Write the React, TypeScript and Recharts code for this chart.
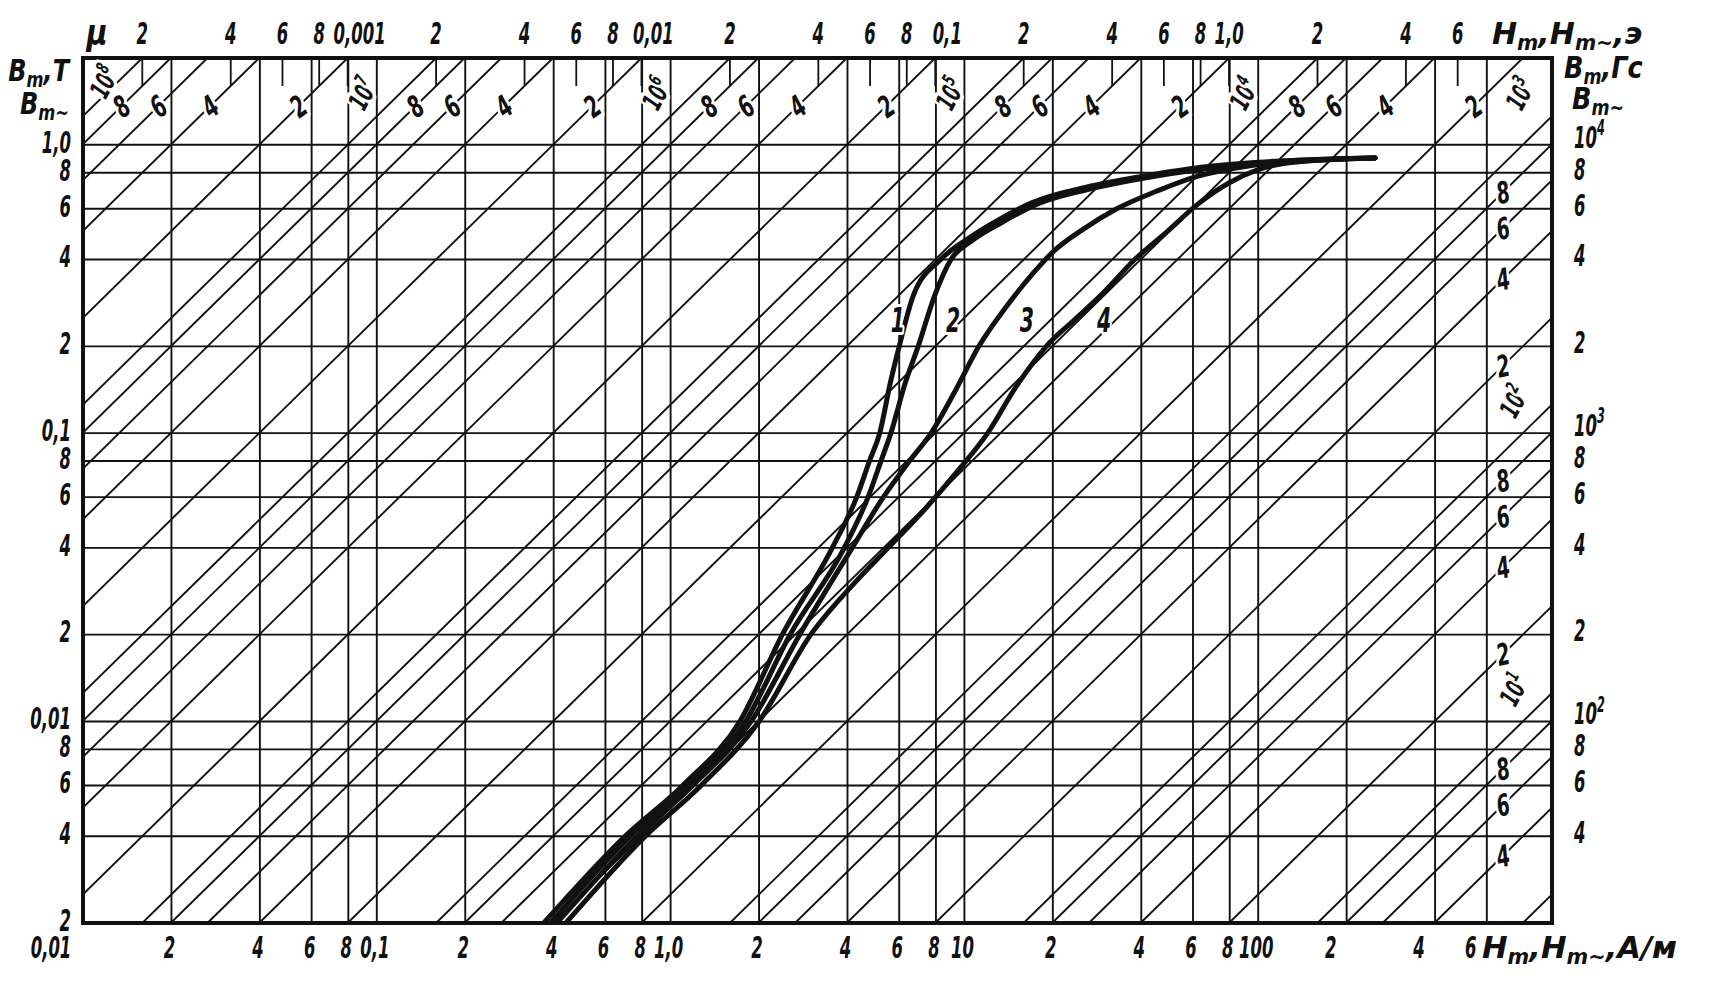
import React from 'react';
import {
  ComposedChart,
  Line,
  XAxis,
  YAxis,
  CartesianGrid,
  ReferenceLine,
  ReferenceDot,
  ReferenceArea,
} from 'recharts';

// ranges: field in A/m, induction in T
const H_MIN = 0.01;
const H_MAX = 1000;
const B_MIN = 0.002;
const B_MAX = 2;
const MU0 = 4e-7 * Math.PI;
const OE = 1000 / (4 * Math.PI); // 1 Oe in A/m

// bottom axis, A/m
const hTicks = [0.01, 0.02, 0.04, 0.06, 0.08, 0.1, 0.2, 0.4, 0.6, 0.8, 1, 2, 4, 6, 8, 10, 20, 40, 60, 80, 100, 200, 400, 600, 1000];
const hLabels = ['0,01', '2', '4', '6', '8', '0,1', '2', '4', '6', '8', '1,0', '2', '4', '6', '8', '10', '2', '4', '6', '8', '100', '2', '4', '6', ''];

// top axis, Oe
const oeTicks = [2e-4, 4e-4, 6e-4, 8e-4, 1e-3, 2e-3, 4e-3, 6e-3, 8e-3, 0.01, 0.02, 0.04, 0.06, 0.08, 0.1, 0.2, 0.4, 0.6, 0.8, 1, 2, 4, 6];
const oeLabels = ['2', '4', '6', '8', '0,001', '2', '4', '6', '8', '0,01', '2', '4', '6', '8', '0,1', '2', '4', '6', '8', '1,0', '2', '4', '6'];

// left axis T, right axis Gs
const bTicks = [0.002, 0.004, 0.006, 0.008, 0.01, 0.02, 0.04, 0.06, 0.08, 0.1, 0.2, 0.4, 0.6, 0.8, 1, 2];
const tLabels = ['2', '4', '6', '8', '0,01', '2', '4', '6', '8', '0,1', '2', '4', '6', '8', '1,0', ''];
const gsLabels = ['', '4', '6', '8', '10^{2}', '2', '4', '6', '8', '10^{3}', '2', '4', '6', '8', '10^{4}', ''];

// permeability lines mu = m * 10^k
const muMantissas = [1, 2, 4, 6, 8];
const muExponents = [0, 1, 2, 3, 4, 5, 6, 7, 8];

// magnetisation curves, [H (A/m), B (T)]
const curve1 = [[0.37, 0.002], [0.7, 0.004], [1.1, 0.006], [1.72, 0.01], [2.4, 0.02], [3.55, 0.04], [4.3, 0.06], [4.75, 0.08], [5.15, 0.1], [5.6, 0.15], [6.0, 0.2], [6.7, 0.3], [8.3, 0.4], [10.3, 0.473], [13.1, 0.55], [17, 0.63], [27, 0.72], [41, 0.78], [64, 0.836], [100, 0.87], [160, 0.89], [250, 0.9]];
const curve2 = [[0.39, 0.002], [0.73, 0.004], [1.14, 0.006], [1.8, 0.01], [2.55, 0.02], [3.9, 0.04], [4.7, 0.06], [5.2, 0.08], [5.62, 0.1], [6.3, 0.15], [6.96, 0.2], [7.92, 0.3], [9.0, 0.4], [10.6, 0.465], [13.5, 0.54], [17.5, 0.62], [28, 0.71], [45, 0.78], [70, 0.83], [110, 0.865], [250, 0.9]];
const curve3 = [[0.41, 0.002], [0.77, 0.004], [1.19, 0.006], [1.88, 0.01], [2.75, 0.02], [4.15, 0.04], [5.3, 0.06], [6.5, 0.08], [7.7, 0.1], [9.3, 0.14], [11.2, 0.2], [13.9, 0.275], [17.2, 0.36], [20, 0.425], [25.4, 0.51], [33, 0.6], [45, 0.69], [60, 0.77], [87, 0.836], [130, 0.88], [250, 0.9]];
const curve4 = [[0.44, 0.002], [0.82, 0.004], [1.27, 0.006], [2.0, 0.01], [3.0, 0.02], [4.2, 0.03], [5.5, 0.04], [7.4, 0.055], [9.6, 0.075], [12, 0.1], [15, 0.145], [19, 0.2], [24, 0.25], [30, 0.31], [38, 0.4], [49, 0.5], [62, 0.62], [80, 0.74], [100, 0.82], [150, 0.88], [250, 0.9]];

const curveNames = ['1', '2', '3', '4'];
const curveLabelH = [5.94, 9.15, 16.3, 29.9];
const curveLabelB = [0.247, 0.247, 0.247, 0.247];

const W = 1698;
const HGT = 970;
const INK = '#111';
const FONT = "'DejaVu Sans', 'Liberation Sans', sans-serif";

type Part = { t: string; k?: 'sup' | 'sub' };

// "10^{2}" / "B_{m},T" -> text parts
const parse = (s: string): Part[] => {
  const out: Part[] = [];
  const re = /([_^])\{([^}]*)\}/g;
  let last = 0;
  let m: RegExpExecArray | null;
  while ((m = re.exec(s))) {
    if (m.index > last) out.push({ t: s.slice(last, m.index) });
    out.push({ t: m[2], k: m[1] === '^' ? 'sup' : 'sub' });
    last = re.lastIndex;
  }
  if (last < s.length) out.push({ t: s.slice(last) });
  return out;
};

const Word = ({ x, y, text, anchor = 'middle', size = 30, rot = 0, sx = 0.55, halo = 0 }: any) => {
  const parts = parse(text);
  let shift = 0;
  return (
    <text
      transform={`translate(${x},${y}) rotate(${rot}) scale(${sx},1)`}
      y={size * 0.36}
      textAnchor={anchor}
      fontFamily={FONT}
      fontStyle="italic"
      fontWeight="bold"
      fontSize={size}
      fill={INK}
      stroke={halo ? '#fff' : 'none'}
      strokeWidth={halo}
      strokeLinejoin="round"
      paintOrder="stroke"
    >
      {parts.map((p, i) => {
        const target = p.k === 'sup' ? -size * 0.42 : p.k === 'sub' ? size * 0.22 : 0;
        const dy = target - shift;
        shift = target;
        return (
          <tspan key={i} dy={dy} fontSize={p.k ? size * 0.68 : size}>
            {p.t}
          </tspan>
        );
      })}
    </text>
  );
};

const findIdx = (arr: number[], v: number) => arr.findIndex((a) => Math.abs(a - v) <= a * 1e-6);

const BottomTick = (p: any) => {
  const v = p.payload.value;
  if (v >= H_MAX * 0.999) {
    return <Word x={p.x - 70} y={p.y + 24} text="H_{m},H_{m~},A/м" anchor="start" sx={1.02} />;
  }
  const i = findIdx(hTicks, v);
  const dx = i === 0 ? -32 : v >= 200 ? -16 : -2;
  return <Word x={p.x + dx} y={p.y + 24} text={hLabels[i]} />;
};

const LeftTick = (p: any) => {
  const v = p.payload.value;
  if (v >= B_MAX * 0.999) {
    return (
      <g>
        <Word x={p.x - 14} y={p.y + 12} text="B_{m},Т" anchor="end" sx={0.8} />
        <Word x={p.x - 14} y={p.y + 45} text="B_{m~}" anchor="end" sx={0.8} />
      </g>
    );
  }
  return <Word x={p.x - 12} y={p.y - 3} text={tLabels[findIdx(bTicks, v)]} anchor="end" />;
};

const RightTick = (p: any) => {
  const v = p.payload.value;
  if (v >= B_MAX * 0.999) {
    return (
      <g>
        <Word x={p.x + 12} y={p.y + 9} text="B_{m},Гс" anchor="start" sx={0.85} />
        <Word x={p.x + 20} y={p.y + 40} text="B_{m~}" anchor="start" sx={0.85} />
      </g>
    );
  }
  const i = findIdx(bTicks, v);
  const dy = gsLabels[i].startsWith('10') ? -8 : -4;
  return <Word x={p.x + 22} y={p.y + dy} text={gsLabels[i]} anchor="start" />;
};

// top Oe scale: short tick inside the frame plus label above it
const TopMark = ({ cx, cy, text }: any) => (
  <g>
    <line x1={cx} y1={cy} x2={cx} y2={cy + 28} stroke={INK} strokeWidth={1.8} />
    <Word x={cx + (text.startsWith('0,') ? 12 : 0)} y={cy - 25} text={text} />
  </g>
);

// permeability grid, clipped to the frame
const muLines = muExponents
  .flatMap((e) => muMantissas.map((m) => ({ m, e, mu: m * Math.pow(10, e) })))
  .filter(({ mu }) => mu > B_MIN / (MU0 * H_MAX) && mu < B_MAX / (MU0 * H_MIN))
  .map((l) => {
    const h1 = Math.max(H_MIN, B_MIN / (MU0 * l.mu));
    const h2 = Math.min(H_MAX, B_MAX / (MU0 * l.mu));
    return { ...l, h1, h2, b1: MU0 * l.mu * h1, b2: MU0 * l.mu * h2 };
  });

// label anchor for each permeability line
const muLabels = muLines
  .filter(({ mu }) => mu >= 4)
  .map((l) => {
    const decade = l.m === 1;
    const text = decade ? `10^{${l.e}}` : String(l.m);
    if (l.mu >= 1000) {
      const b = decade ? 1.5 : 1.36;
      let h = b / (MU0 * l.mu);
      if (decade) h = Math.min(Math.max(h * 0.75, 0.0118), 780);
      return { text, h, b: l.e === 8 ? 1.65 : b, decade, top: true };
    }
    const h = decade ? 742 : 681;
    const b = MU0 * l.mu * h * (decade ? 1.38 : 1);
    return { text, h, b, decade, top: false };
  });

const curves = [curve1, curve2, curve3, curve4].map((c) => c.map(([h, b]) => ({ h, b })));

export default function App() {
  return (
    <div style={{ width: W, height: HGT, background: '#fff' }}>
      <ComposedChart width={W} height={HGT} margin={{ top: 50, right: 0, bottom: 0, left: 0 }}>
        <CartesianGrid xAxisId="h" yAxisId="b" stroke={INK} strokeWidth={1.9} />
        <XAxis
          xAxisId="h"
          dataKey="h"
          type="number"
          scale="log"
          domain={[H_MIN, H_MAX]}
          allowDataOverflow
          ticks={hTicks}
          interval={0}
          height={55}
          axisLine={false}
          tickLine={false}
          tickSize={0}
          tickMargin={0}
          tick={BottomTick}
        />
        <YAxis
          yAxisId="b"
          type="number"
          scale="log"
          domain={[B_MIN, B_MAX]}
          allowDataOverflow
          ticks={bTicks}
          interval={0}
          width={75}
          axisLine={false}
          tickLine={false}
          tickSize={0}
          tickMargin={0}
          tick={LeftTick}
        />
        <YAxis
          yAxisId="gs"
          orientation="right"
          type="number"
          scale="log"
          domain={[B_MIN, B_MAX]}
          allowDataOverflow
          ticks={bTicks}
          interval={0}
          width={154}
          axisLine={false}
          tickLine={false}
          tickSize={0}
          tickMargin={0}
          tick={RightTick}
        />

        {muLines.map((l) => (
          <ReferenceLine
            key={`mu-${l.mu}`}
            xAxisId="h"
            yAxisId="b"
            segment={[
              { x: l.h1, y: l.b1 },
              { x: l.h2, y: l.b2 },
            ]}
            stroke={INK}
            strokeWidth={1.9}
            ifOverflow="hidden"
          />
        ))}

        {curves.map((data, i) => (
          <Line
            key={`curve-${i}`}
            xAxisId="h"
            yAxisId="b"
            data={data}
            dataKey="b"
            type="monotone"
            stroke={INK}
            strokeWidth={5}
            strokeLinecap="round"
            dot={false}
            activeDot={false}
            isAnimationActive={false}
          />
        ))}

        {muLabels.map((l, i) => (
          <ReferenceDot
            key={`mul-${i}`}
            xAxisId="h"
            yAxisId="b"
            x={l.h}
            y={l.b}
            r={0}
            ifOverflow="visible"
            shape={(p: any) => (
              <Word
                x={p.cx}
                y={p.cy}
                text={l.text}
                size={l.decade ? 27 : 30}
                rot={l.decade ? -62 : l.top ? -35 : -12}
                sx={0.62}
                halo={8}
              />
            )}
          />
        ))}

        {curveNames.map((name, i) => (
          <ReferenceDot
            key={`cl-${name}`}
            xAxisId="h"
            yAxisId="b"
            x={curveLabelH[i]}
            y={curveLabelB[i]}
            r={0}
            ifOverflow="visible"
            shape={(p: any) => <Word x={p.cx} y={p.cy} text={name} size={33} sx={0.62} halo={6} />}
          />
        ))}

        {oeTicks.map((o, i) => (
          <ReferenceDot
            key={`oe-${i}`}
            xAxisId="h"
            yAxisId="b"
            x={o * OE}
            y={B_MAX}
            r={0}
            ifOverflow="visible"
            shape={(p: any) => <TopMark cx={p.cx} cy={p.cy} text={oeLabels[i]} />}
          />
        ))}
        <ReferenceDot
          xAxisId="h"
          yAxisId="b"
          x={H_MIN}
          y={B_MAX}
          r={0}
          ifOverflow="visible"
          shape={(p: any) => <Word x={p.cx + 14} y={p.cy - 26} text="μ" size={36} sx={0.8} />}
        />
        <ReferenceDot
          xAxisId="h"
          yAxisId="b"
          x={H_MAX}
          y={B_MAX}
          r={0}
          ifOverflow="visible"
          shape={(p: any) => (
            <Word x={p.cx - 60} y={p.cy - 25} text="H_{m},H_{m~},э" anchor="start" sx={1.0} />
          )}
        />

        <ReferenceArea
          xAxisId="h"
          yAxisId="b"
          x1={H_MIN}
          x2={H_MAX}
          y1={B_MIN}
          y2={B_MAX}
          fill="none"
          fillOpacity={0}
          stroke={INK}
          strokeWidth={4}
          ifOverflow="visible"
        />
      </ComposedChart>
    </div>
  );
}
